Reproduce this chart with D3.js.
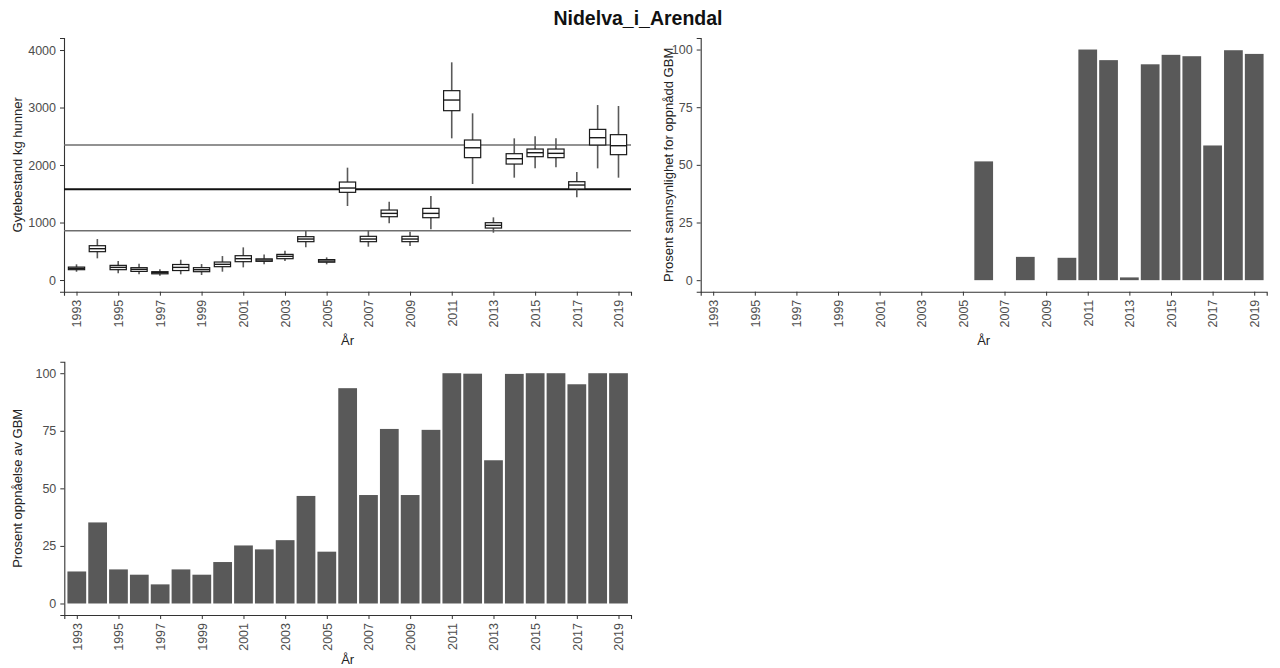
<!DOCTYPE html>
<html>
<head>
<meta charset="utf-8">
<script src="https://cdn.jsdelivr.net/npm/d3@7"></script>
<style>
  html, body { margin: 0; padding: 0; background: #ffffff; }
  svg { display: block; }
  text { font-family: "Liberation Sans", Arial, sans-serif; }
</style>
</head>
<body>
<svg id="chart" width="1280" height="668"></svg>
<script>
// ---------- DATA ----------
const years = d3.range(1993, 2020).map(String);
const tickYears = years.filter((y, i) => i % 2 === 0);

// spawning stock (kg females) – boxplot statistics
const whiskerLow  = [144,377,116,99,75,99,87,145,220,273,330,568,273,1287,580,986,591,881,2464,1670,823,1780,1942,1960,1438,1942,1780];
const boxLow      = [180,493,180,150,108,165,145,232,319,325,371,667,310,1525,667,1101,667,1084,2945,2128,904,2017,2145,2128,1583,2348,2180];
const medians     = [203,545,220,186,127,220,180,273,371,348,412,713,330,1600,713,1159,713,1159,3130,2300,951,2110,2214,2203,1652,2475,2336];
const boxHigh     = [225,597,255,215,145,270,215,313,423,368,446,754,355,1704,760,1217,760,1246,3293,2435,997,2197,2278,2278,1710,2620,2528];
const whiskerHigh = [273,713,330,284,186,353,278,417,568,446,510,852,394,1954,857,1362,841,1461,3786,2899,1090,2464,2499,2464,1878,3043,3026];

// reference lines (lower bound, GBM, upper bound)
const refLines = [857, 1577, 2348];
const yTicksTL = [0, 1000, 2000, 3000, 4000];

// probability of reaching GBM (%)
const probGBM = [0,0,0,0,0,0,0,0,0,0,0,0,0,51.5,0,10.1,0,9.7,100,95.4,1.2,93.6,97.7,97.1,58.4,99.7,98.1];
// percent attainment of GBM
const pctGBM  = [13.9,35.2,14.8,12.5,8.3,14.8,12.5,18.0,25.2,23.5,27.5,46.7,22.5,93.5,47.1,75.8,47.1,75.4,100,99.8,62.2,99.7,100,100,95.2,100,100];
const yTicksPct = [0, 25, 50, 75, 100];

// ---------- LAYOUT ----------
const svg = d3.select("#chart");
const tickCol = "#4d4d4d";
const axisCol = "#333333";
const barCol = "#595959";

svg.append("text")
  .attr("x", 638).attr("y", 25)
  .attr("text-anchor", "middle")
  .attr("font-size", 19.5).attr("font-weight", "bold")
  .attr("fill", "#111")
  .text("Nidelva_i_Arendal");

function panel(opts) {
  const g = svg.append("g");
  const x = d3.scalePoint().domain(years).range([opts.x0, opts.x1]).padding(0.6);
  const y = d3.scaleLinear().domain(opts.yDomain).range([opts.yBottom, opts.yTop]);

  // axes
  const xAxis = d3.axisBottom(x).tickValues(tickYears).tickSize(4).tickPadding(4);
  const gx = g.append("g").attr("transform", `translate(0,${opts.yBottom})`).call(xAxis);
  gx.select(".domain").attr("stroke", axisCol).attr("stroke-width", 1.1);
  gx.selectAll(".tick line").attr("stroke", axisCol).attr("stroke-width", 1);
  gx.selectAll(".tick text")
    .attr("transform", "rotate(-90)")
    .attr("text-anchor", "end")
    .attr("x", -8).attr("y", 0).attr("dy", "0.35em")
    .attr("fill", tickCol).attr("font-size", 12.5)
    .attr("font-family", "Liberation Sans, Arial, sans-serif");

  const yAxis = d3.axisLeft(y).tickValues(opts.yTicks).tickSize(4).tickPadding(4).tickFormat(d3.format("d"));
  const gy = g.append("g").attr("transform", `translate(${opts.x0},0)`).call(yAxis);
  gy.select(".domain").attr("stroke", axisCol).attr("stroke-width", 1.1);
  gy.selectAll(".tick line").attr("stroke", axisCol).attr("stroke-width", 1);
  gy.selectAll(".tick text")
    .attr("fill", tickCol).attr("font-size", 12.5)
    .attr("font-family", "Liberation Sans, Arial, sans-serif");

  // axis titles
  const cx = (opts.x0 + opts.x1) / 2;
  const cy = (opts.yTop + opts.yBottom) / 2;
  g.append("text")
    .attr("x", cx).attr("y", opts.yBottom + opts.xTitleOffset)
    .attr("text-anchor", "middle").attr("font-size", 13).attr("fill", "#222")
    .text("År");
  g.append("text")
    .attr("transform", `translate(${opts.yTitleX},${cy}) rotate(-90)`)
    .attr("text-anchor", "middle").attr("font-size", 13).attr("fill", "#222")
    .text(opts.yTitle);

  return { g, x, y };
}

// ---- Top-left: boxplots ----
const p1 = panel({
  x0: 64, x1: 631, yTop: 38, yBottom: 291.7,
  yDomain: [-203, 4209], yTicks: yTicksTL,
  yTitle: "Gytebestand kg hunner", yTitleX: 22, xTitleOffset: 53
});
const step1 = p1.x.step();
const boxW = step1 * 0.78;

const boxData = years.map((yr, i) => ({
  yr, lo: whiskerLow[i], q1: boxLow[i], med: medians[i], q3: boxHigh[i], hi: whiskerHigh[i]
}));

const bx = p1.g.append("g");
bx.selectAll("line.whisk").data(boxData).join("line")
  .attr("class", "whisk")
  .attr("x1", d => p1.x(d.yr)).attr("x2", d => p1.x(d.yr))
  .attr("y1", d => p1.y(d.lo)).attr("y2", d => p1.y(d.hi))
  .attr("stroke", "#5a5a5a").attr("stroke-width", 1.6);

// reference lines
p1.g.selectAll("line.ref").data(refLines).join("line")
  .attr("class", "ref")
  .attr("x1", 64).attr("x2", 631)
  .attr("y1", d => p1.y(d)).attr("y2", d => p1.y(d))
  .attr("stroke", (d, i) => i === 1 ? "#111" : "#6e6e6e")
  .attr("stroke-width", (d, i) => i === 1 ? 2 : 1.4);

bx.raise();
bx.selectAll("rect").data(boxData).join("rect")
  .attr("x", d => p1.x(d.yr) - boxW / 2)
  .attr("width", boxW)
  .attr("y", d => p1.y(d.q3))
  .attr("height", d => p1.y(d.q1) - p1.y(d.q3))
  .attr("fill", "#ffffff")
  .attr("stroke", "#1a1a1a").attr("stroke-width", 1.2);
bx.selectAll("line.med").data(boxData).join("line")
  .attr("class", "med")
  .attr("x1", d => p1.x(d.yr) - boxW / 2).attr("x2", d => p1.x(d.yr) + boxW / 2)
  .attr("y1", d => p1.y(d.med)).attr("y2", d => p1.y(d.med))
  .attr("stroke", "#1a1a1a").attr("stroke-width", 1.4);

// ---- Top-right: probability bars ----
const p2 = panel({
  x0: 700.7, x1: 1266.7, yTop: 38, yBottom: 291.7,
  yDomain: [-5, 105], yTicks: yTicksPct,
  yTitle: "Prosent sannsynlighet for oppnådd GBM", yTitleX: 673, xTitleOffset: 53
});
const bw2 = p2.x.step() * 0.9;
p2.g.append("g").selectAll("rect")
  .data(years.map((yr, i) => ({ yr, v: probGBM[i] })).filter(d => d.v > 0))
  .join("rect")
  .attr("x", d => p2.x(d.yr) - bw2 / 2).attr("width", bw2)
  .attr("y", d => p2.y(d.v)).attr("height", d => p2.y(0) - p2.y(d.v))
  .attr("fill", barCol);

// ---- Bottom-left: percent attainment bars ----
const p3 = panel({
  x0: 64.3, x1: 631, yTop: 361.7, yBottom: 615,
  yDomain: [-5, 105], yTicks: yTicksPct,
  yTitle: "Prosent oppnåelse av GBM", yTitleX: 22, xTitleOffset: 49
});
const bw3 = p3.x.step() * 0.9;
p3.g.append("g").selectAll("rect")
  .data(years.map((yr, i) => ({ yr, v: pctGBM[i] })))
  .join("rect")
  .attr("x", d => p3.x(d.yr) - bw3 / 2).attr("width", bw3)
  .attr("y", d => p3.y(d.v)).attr("height", d => p3.y(0) - p3.y(d.v))
  .attr("fill", barCol);
</script>
</body>
</html>
